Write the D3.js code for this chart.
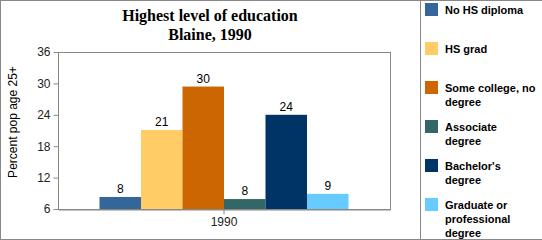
<!DOCTYPE html>
<html><head><meta charset="utf-8">
<script src="https://cdn.jsdelivr.net/npm/d3@7"></script>
<style>body{margin:0;background:#fff}svg{display:block}</style>
</head><body>
<script>
const categories = ["No HS diploma","HS grad","Some college, no degree","Associate degree","Bachelor's degree","Graduate or professional degree"];
const legendLines = [["No HS diploma"],["HS grad"],["Some college, no","degree"],["Associate","degree"],["Bachelor's","degree"],["Graduate or","professional","degree"]];
const values = [8.3, 21.1, 29.4, 7.9, 24.0, 8.9];
const valueLabels = ["8","21","30","8","24","9"];
const colors = ["#336699","#FFCC66","#CC6600","#336666","#003366","#66CCFF"];
const years = ["1990"];
const yTicks = [6,12,18,24,30,36];

const W=542,H=240;
const svg=d3.select("body").append("svg").attr("width",W).attr("height",H);
// outer border
svg.append("rect").attr("x",0.5).attr("y",0.5).attr("width",W+10).attr("height",H-1).attr("fill","none").attr("stroke","#888");
svg.append("line").attr("x1",420.5).attr("x2",420.5).attr("y1",0).attr("y2",H).attr("stroke","#888");

const L=58,R=390,T=52,B=209;
const x0=d3.scaleBand().domain(years).range([L,R]).paddingInner(0).paddingOuter(1/6);
const x1=d3.scaleBand().domain(categories).range([0,x0.bandwidth()]);
const y=d3.scaleLinear().domain([6,36]).range([B,T]);

// title
const title=svg.append("text").attr("text-anchor","middle").attr("font-family","Liberation Serif, Times New Roman, serif").attr("font-weight","bold").attr("font-size",16).attr("fill","#000");
title.append("tspan").attr("x",210).attr("y",21).text("Highest level of education");
title.append("tspan").attr("x",210).attr("y",40).text("Blaine, 1990");

// frame
svg.append("rect").attr("x",L+0.5).attr("y",T+0.5).attr("width",R-L).attr("height",B-T).attr("fill","none").attr("stroke","#888");

// y axis
const ya=svg.append("g").attr("transform",`translate(${L+0.5},0)`).call(d3.axisLeft(y).tickValues(yTicks).tickSize(5).tickPadding(3));
ya.select(".domain").remove();
ya.selectAll("line").attr("stroke","#888");
ya.selectAll("text").attr("font-family","Liberation Sans, Arial, sans-serif").attr("font-size",12).attr("fill","#222");

svg.append("text").attr("transform","translate(17,122) rotate(-90)").attr("text-anchor","middle")
 .attr("font-family","Liberation Sans, Arial, sans-serif").attr("font-size",12).attr("fill","#000").text("Percent pop age 25+");

// bars
const g=svg.append("g");
years.forEach(yr=>{
  categories.forEach((c,i)=>{
    g.append("rect").attr("x",x0(yr)+x1(c)).attr("width",x1.bandwidth()).attr("y",y(values[i])).attr("height",B-y(values[i])).attr("fill",colors[i]);
    g.append("text").attr("x",x0(yr)+x1(c)+x1.bandwidth()/2).attr("y",y(values[i])-4).attr("text-anchor","middle")
     .attr("font-family","Liberation Sans, Arial, sans-serif").attr("font-size",12).attr("fill","#000").text(valueLabels[i]);
  });
});

// x axis
const xa=svg.append("g").attr("transform",`translate(0,${B+0.5})`).call(d3.axisBottom(x0).tickSize(5).tickPadding(3).tickSizeOuter(0));
xa.select(".domain").attr("stroke","#888");
xa.selectAll("line").attr("stroke","#888");
xa.selectAll("text").attr("font-family","Liberation Sans, Arial, sans-serif").attr("font-size",12).attr("fill","#222");

// legend
const lg=svg.append("g");
legendLines.forEach((lines,i)=>{
  const top=3+i*39;
  lg.append("rect").attr("x",425).attr("y",top).attr("width",13).attr("height",13).attr("fill",colors[i]);
  const t=lg.append("text").attr("font-family","Liberation Sans, Arial, sans-serif").attr("font-weight","bold").attr("font-size",11).attr("fill","#000");
  lines.forEach((s,j)=>t.append("tspan").attr("x",445).attr("y",top+11+j*14).text(s));
});
</script>
</body></html>
